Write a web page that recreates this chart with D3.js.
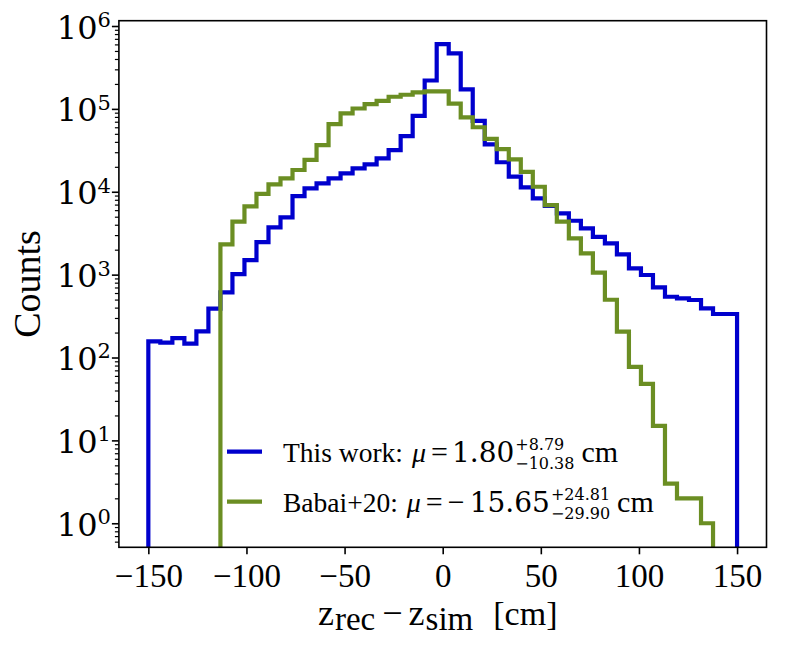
<!DOCTYPE html>
<html>
<head>
<meta charset="utf-8">
<script src="https://cdn.jsdelivr.net/npm/d3@7"></script>
<style>
  body { margin: 0; background: #fff; }
  svg text { font-family: "Liberation Serif", "Times New Roman", serif; fill: #000; }
</style>
</head>
<body>
<div id="chart"></div>
<script>
// histogram bins: 49 equal bins between -150 and 150 cm
const binRange = [-150, 150];
const nBins = 49;

const blueCounts = [
  157, 151, 171, 147, 207, 388, 612, 1016, 1500, 2470,
  3720, 4910, 8870, 11000, 12600, 14500, 16700, 19100, 21400, 25300,
  31800, 47000, 82200, 220000, 605000, 468000, 172000, 71600, 37300, 22700,
  15200, 11300, 8320, 6760, 5480, 4470, 3610, 2860, 2380, 1760,
  1190, 990, 703, 541, 518, 494, 392, 335, 335
];

const greenCounts = [
  0, 0, 0, 0, 0, 0, 2320, 4350, 6680, 9440,
  12300, 14500, 18300, 24200, 36600, 65300, 88300, 101000, 114000, 125000,
  140000, 148000, 158000, 163000, 163000, 116000, 79000, 60000, 43400, 32600,
  24600, 17400, 11500, 6900, 4350, 2740, 1810, 1060, 498, 205,
  77, 48, 15, 3, 2, 2, 1, 0, 0
];

const xTicks = [-150, -100, -50, 0, 50, 100, 150];
const yExponents = [0, 1, 2, 3, 4, 5, 6];

const legendItems = [
  {label: 'This work:', sign: null, mu: '1.80', sup: '+8.79', sub: '\u221210.38', color: '#0000cd', counts: blueCounts},
  {label: 'Babai+20:', sign: '\u2212', mu: '15.65', sup: '+24.81', sub: '\u221229.90', color: '#6b8e23', counts: greenCounts}
];

const mathFont = '"DejaVu Serif", serif';

const margin = {top: 20.7, right: 21.5, bottom: 101.7, left: 118.9},
  width = 788 - margin.left - margin.right,
  height = 649 - margin.top - margin.bottom;

const x = d3.scaleLinear()
  .domain([-165, 165])
  .range([0, width]);

const y = d3.scaleLog()
  .domain([Math.pow(10, -0.29), Math.pow(10, 6.064)])
  .range([height, 0]);

const edges = d3.range(nBins + 1).map(i => binRange[0] + i * (binRange[1] - binRange[0]) / nBins);

const svgTop = d3.select('#chart')
  .append('svg')
  .attr('width', 788)
  .attr('height', 649);

const svg = svgTop.append('g')
  .attr('transform', `translate(${margin.left},${margin.top})`);

svg.append('clipPath')
  .attr('id', 'plot-clip')
  .append('rect')
  .attr('width', width)
  .attr('height', height);

// step outline of a histogram, going down to the floor where counts are zero
const stepPoints = function(counts) {
  const floor = height + 20;
  const first = counts.findIndex(c => c > 0);
  let last = counts.length - 1;
  while (counts[last] <= 0) last--;
  const pts = [[x(edges[first]), floor]];
  for (let i = first; i <= last; i++) {
    const yy = counts[i] > 0 ? y(counts[i]) : floor;
    pts.push([x(edges[i]), yy], [x(edges[i + 1]), yy]);
  }
  pts.push([x(edges[last + 1]), floor]);
  return pts;
};

const line = d3.line();

legendItems.forEach(d => {
  svg.append('path')
    .attr('clip-path', 'url(#plot-clip)')
    .attr('d', line(stepPoints(d.counts)))
    .attr('fill', 'none')
    .attr('stroke', d.color)
    .attr('stroke-width', 4.2)
    .attr('stroke-linejoin', 'miter');
});

// axes
const xAxis = d3.axisBottom(x)
  .tickValues(xTicks)
  .tickSize(7)
  .tickSizeOuter(0)
  .tickFormat(d => d < 0 ? '\u2212' + Math.abs(d) : d);

const gx = svg.append('g')
  .attr('transform', `translate(0,${height})`)
  .call(xAxis);
gx.select('.domain').remove();
gx.selectAll('line').attr('stroke', '#000').attr('stroke-width', 1.6);
gx.selectAll('text')
  .attr('y', 39.4)
  .attr('dy', 0)
  .attr('font-size', 33)
  .attr('font-family', '"Liberation Serif", serif');

const minorVals = [];
for (let e = -1; e <= 6; e++) {
  for (let k = 2; k <= 9; k++) {
    const v = k * Math.pow(10, e);
    if (v >= y.domain()[0] && v <= y.domain()[1]) minorVals.push(v);
  }
}

const gyMinor = svg.append('g')
  .call(d3.axisLeft(y).tickValues(minorVals).tickSize(4).tickSizeOuter(0).tickFormat(''));
gyMinor.select('.domain').remove();
gyMinor.selectAll('line').attr('stroke', '#000').attr('stroke-width', 1.2);

const gy = svg.append('g')
  .call(d3.axisLeft(y).tickValues(yExponents.map(e => Math.pow(10, e))).tickSize(7).tickSizeOuter(0).tickFormat(''));
gy.select('.domain').remove();
gy.selectAll('line').attr('stroke', '#000').attr('stroke-width', 1.6);

yExponents.forEach(e => {
  const t = svg.append('text')
    .attr('x', -8)
    .attr('y', y(Math.pow(10, e)) + 12.5)
    .attr('text-anchor', 'end')
    .style('font-family', mathFont)
    .attr('font-size', 32);
  t.append('tspan').text('10');
  t.append('tspan')
    .attr('dy', -11.5)
    .attr('font-size', 21)
    .text(e);
});

// spines
svg.append('rect')
  .attr('width', width)
  .attr('height', height)
  .attr('fill', 'none')
  .attr('stroke', '#000')
  .attr('stroke-width', 1.6);

// lays text pieces out left to right; a piece with `stack` puts two texts above each other
const appendPieces = function(parent, x0, baseY, pieces) {
  let cx = x0;
  pieces.forEach(p => {
    cx += p.gap || 0;
    const parts = p.stack || [p];
    let w = 0;
    parts.forEach(q => {
      const t = parent.append('text')
        .attr('x', cx)
        .attr('y', baseY + (q.dy || 0))
        .attr('font-size', q.size)
        .style('font-family', q.family || null)
        .style('font-style', q.italic ? 'italic' : null)
        .text(q.text);
      w = Math.max(w, t.node().getComputedTextLength());
    });
    cx += w;
  });
  return cx;
};

// axis labels
svg.append('text')
  .attr('transform', `translate(${40 - margin.left},${height / 2}) rotate(-90)`)
  .attr('text-anchor', 'middle')
  .attr('font-size', 38)
  .text('Counts');

appendPieces(svgTop, 318, 625, [
  {text: 'z', size: 36},
  {text: 'rec', size: 33, dy: 5, gap: 1},
  {text: '\u2212', size: 36, gap: 7},
  {text: 'z', size: 36, gap: 6},
  {text: 'sim', size: 33, dy: 5, gap: 1},
  {text: '[cm]', size: 34, gap: 20}
]);

// legend
const legendX = 227, legendRow = [451.7, 501.7];
legendItems.forEach((d, i) => {
  const ly = legendRow[i];
  svgTop.append('line')
    .attr('x1', legendX)
    .attr('x2', legendX + 35)
    .attr('y1', ly)
    .attr('y2', ly)
    .attr('stroke', d.color)
    .attr('stroke-width', 4.2);

  const pieces = [
    {text: d.label, size: 27.5},
    {text: '\u03bc', size: 28, italic: true, gap: 9},
    {text: '=', size: 30, gap: 5}
  ];
  if (d.sign) pieces.push({text: d.sign, size: 30, gap: 5});
  pieces.push(
    {text: d.mu, size: 28, family: mathFont, gap: d.sign ? 5 : 4},
    {stack: [
      {text: d.sup, size: 16, family: mathFont, dy: -12},
      {text: d.sub, size: 16, family: mathFont, dy: 7}
    ], gap: 1},
    {text: 'cm', size: 30, gap: 7}
  );
  appendPieces(svgTop, legendX + 56, ly + 10, pieces);
});
</script>
</body>
</html>
